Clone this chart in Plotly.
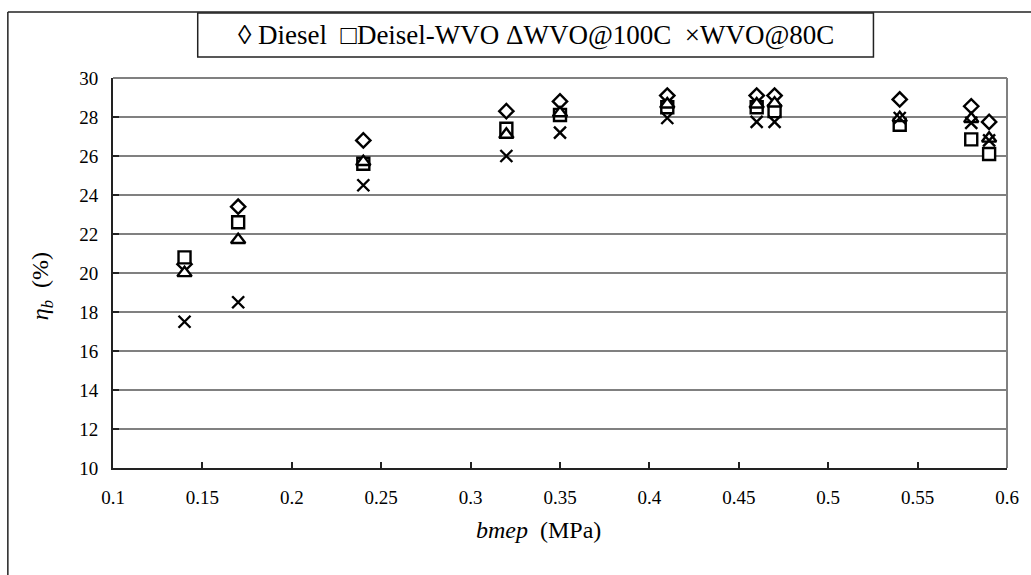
import plotly.graph_objects as go

bmep = [0.14, 0.17, 0.24, 0.32, 0.35, 0.41, 0.46, 0.47, 0.54, 0.58, 0.59]
diesel = [20.45, 23.4, 26.8, 28.3, 28.8, 29.1, 29.1, 29.1, 28.9, 28.55, 27.75]
diesel_wvo = [20.8, 22.6, 25.6, 27.4, 28.1, 28.5, 28.5, 28.3, 27.6, 26.85, 26.1]
wvo100 = [20.0, 21.7, 25.7, 27.1, 28.2, 28.65, 28.65, 28.7, 27.95, 27.9, 26.9]
wvo80 = [17.5, 18.5, 24.5, 26.0, 27.2, 27.95, 27.75, 27.75, 27.95, 27.7, 26.8]

xticks = [0.1, 0.15, 0.2, 0.25, 0.3, 0.35, 0.4, 0.45, 0.5, 0.55, 0.6]
xticklabels = ["0.1", "0.15", "0.2", "0.25", "0.3", "0.35", "0.4", "0.45", "0.5", "0.55", "0.6"]
yticks = [10, 12, 14, 16, 18, 20, 22, 24, 26, 28, 30]

legend_text = "\u25ca Diesel\u00a0\u00a0\u25a1Deisel-WVO \u0394WVO@100C\u00a0\u00a0\u00d7WVO@80C"
x_title = "<i>bmep</i>\u00a0\u00a0(MPa)"
y_title = "<i>\u03b7<sub>b</sub></i>\u00a0\u00a0(%)"

FONT = "Times New Roman, Liberation Serif, serif"
W, H = 1031, 575
L, R, T, B = 113, 21, 78, 107
pw, ph = W - L - R, H - T - B

def px(x):
    return (x - L) / pw

def py(y):
    return (H - B - y) / ph

fig = go.Figure()
series = [
    ("Diesel", diesel, "diamond", 11, "white"),
    ("Deisel-WVO", diesel_wvo, "square", 12, "white"),
    ("WVO@100C", wvo100, "triangle-up", 12.5, "white"),
    ("WVO@80C", wvo80, "x-thin-open", 12, "black"),
]
for name, ys, sym, sz, fill in series:
    fig.add_trace(go.Scatter(
        x=bmep, y=ys, mode="markers", name=name,
        marker=dict(symbol=sym, size=sz, color=fill,
                    line=dict(color="black", width=2.4)),
        cliponaxis=False,
    ))

fig.update_layout(
    width=W, height=H,
    margin=dict(l=L, r=R, t=T, b=B),
    paper_bgcolor="white", plot_bgcolor="white",
    showlegend=False,
    font=dict(family=FONT, size=19, color="black"),
    xaxis=dict(
        range=[0.1, 0.6], tickvals=xticks, ticktext=xticklabels,
        showgrid=False, zeroline=False,
        showline=True, linecolor="#222", linewidth=2,
        ticks="inside", ticklen=6, tickcolor="#222", tickwidth=1.5,
        ticklabelstandoff=11,
        tickfont=dict(family=FONT, size=19),
    ),
    yaxis=dict(
        range=[10, 30], tickvals=yticks,
        showgrid=True, gridcolor="#808080", gridwidth=1.5,
        zeroline=False,
        showline=True, linecolor="#222", linewidth=2,
        ticks="inside", ticklen=6, tickcolor="#222", tickwidth=1.5,
        ticklabelstandoff=9,
        tickfont=dict(family=FONT, size=19),
    ),
    shapes=[
        dict(type="line", xref="paper", yref="paper", x0=0, x1=1, y0=1, y1=1,
             line=dict(color="#808080", width=2)),
        dict(type="line", xref="paper", yref="paper", x0=1, x1=1, y0=0, y1=1,
             line=dict(color="#808080", width=2)),
        dict(type="line", xref="paper", yref="paper", x0=px(7.5), x1=px(7.5), y0=py(12), y1=py(580),
             line=dict(color="#222", width=1.5)),
        dict(type="line", xref="paper", yref="paper", x0=px(7.5), x1=px(1035), y0=py(12), y1=py(12),
             line=dict(color="#222", width=1.5)),
        dict(type="rect", xref="paper", yref="paper", x0=px(198), x1=px(876), y0=py(13), y1=py(57),
             line=dict(color="#222", width=1.5), fillcolor="white"),
    ],
    annotations=[
        dict(text=legend_text, xref="paper", yref="paper", x=px(537), y=py(35),
             xanchor="center", yanchor="middle", showarrow=False,
             font=dict(family=FONT, size=27, color="black")),
        dict(text=x_title, xref="paper", yref="paper", x=px(540), y=py(530),
             xanchor="center", yanchor="middle", showarrow=False,
             font=dict(family=FONT, size=24, color="black")),
        dict(text=y_title, xref="paper", yref="paper", x=px(42), y=py(286),
             xanchor="center", yanchor="middle", showarrow=False, textangle=-90,
             font=dict(family=FONT, size=24, color="black")),
    ],
)

fig.write_html("out.html")
